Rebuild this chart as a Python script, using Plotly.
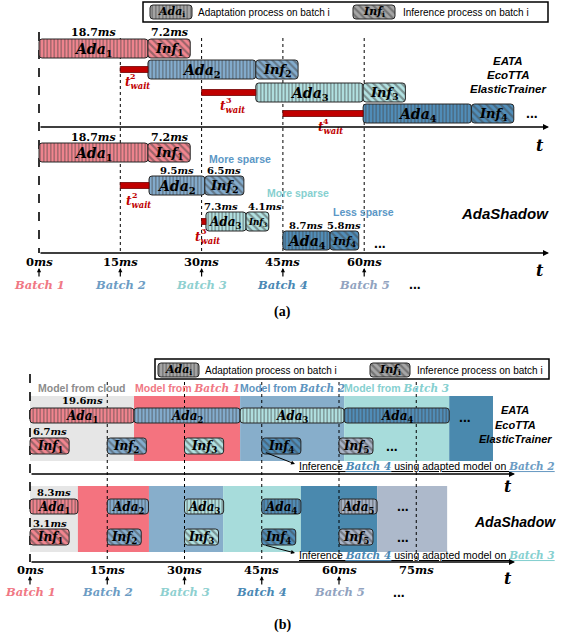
import plotly.graph_objects as go

# ======================= DATA =======================
batches = ["Batch 1", "Batch 2", "Batch 3", "Batch 4", "Batch 5"]
ticks_a = [0, 15, 30, 45, 60]
ticks_b = [0, 15, 30, 45, 60, 75]

# (a) EATA / EcoTTA / ElasticTrainer  (ms, extents as drawn)
a_eata_ada_start = [0.0, 20.1, 40.0, 59.8]
a_eata_ada_len = [20.1, 19.9, 19.8, 20.0]
a_eata_inf_len = [7.8, 7.8, 7.8, 7.8]
a_eata_arrive = [0, 15, 30, 45]
a_eata_ada_ms = ["18.7", "", "", ""]
a_eata_inf_ms = ["7.2", "", "", ""]

# (a) AdaShadow
a_shadow_ada_start = [0.0, 20.3, 30.8, 45.0]
a_shadow_ada_len = [20.1, 10.3, 7.4, 8.7]
a_shadow_inf_len = [7.8, 7.2, 4.2, 5.3]
a_shadow_arrive = [0, 15, 30, 45]
a_shadow_ada_ms = ["18.7", "9.5", "7.3", "8.7"]
a_shadow_inf_ms = ["7.2", "6.5", "4.1", "5.8"]
a_shadow_note = ["", "More sparse", "More sparse", "Less sparse"]

# (b) EATA / EcoTTA / ElasticTrainer
b_eata_model_edges = [0.0, 20.2, 40.8, 61.0, 81.4, 89.9]
b_eata_model_names = ["cloud", "Batch 1", "Batch 2", "Batch 3"]
b_eata_ada_start = [0.0, 20.2, 40.8, 61.0]
b_eata_ada_len = [20.2, 20.6, 20.2, 20.4]
b_eata_inf_start = [0, 15, 30, 45, 60]
b_eata_inf_len = [7.6, 7.6, 7.6, 7.6, 6.6]
b_eata_ada_ms = "19.6"
b_eata_inf_ms = "6.7"

# (b) AdaShadow
b_shadow_model_edges = [0.0, 9.3, 23.1, 37.5, 52.6, 67.4, 81.0]
b_shadow_ada_start = [0, 15, 30, 45, 60]
b_shadow_ada_len = [9.3, 8.0, 7.6, 7.6, 7.4]
b_shadow_inf_start = [0, 15, 30, 45, 60]
b_shadow_inf_len = [7.6, 6.6, 6.6, 6.6, 6.6]
b_shadow_ada_ms = "8.3"
b_shadow_inf_ms = "3.1"

# ======================= STYLE / LAYOUT =======================
W, H = 564, 641
PXA0, KA = 39.0, 5.42     # panel (a): px = PXA0 + KA*ms
PXB0, KB = 30.0, 5.15     # panel (b)
SERIF = "DejaVu Serif"
SANS = "Liberation Sans"
RED = "#C00000"
CLOUD = "#E6E6E6"
region_colors = ["#F4737F", "#87AECB", "#A7DCDB", "#4A89AE", "#ADB9CB"]
bar_colors = ["#F2858F", "#84ADCF", "#B2E2E2", "#508EBA", "#A9B4C7"]
text_colors = ["#F07884", "#6C9CC4", "#8ED0D0", "#4A88B4", "#91A3BF"]
NOTE_BLUE = "#5B97C6"
NOTE_TEAL = "#86D0D0"


def ms_a(px):
    return (px - PXA0) / KA


def ms_b(px):
    return (px - PXB0) / KB


traces = []
shapes = []
anns = []


def bars(starts, lens, ys, h, colors, xref, shape, rad=3, lw=1.0, lc="#262626", psize=3.5, sol=0.42):
    marker = dict(color=colors, line=dict(color=lc, width=lw), cornerradius=rad)
    if shape:
        marker["pattern"] = dict(shape=shape, fillmode="overlay", fgcolor="white",
                                 size=psize, solidity=sol)
    traces.append(go.Bar(orientation="h", base=list(starts), x=list(lens), y=list(ys),
                         width=[h] * len(ys), xaxis=xref, yaxis="y", marker=marker,
                         hoverinfo="skip", showlegend=False))


def txt(x, y, s, size=11, color="black", family=SERIF, xref="paper",
        xanchor="center", yanchor="middle", xshift=0):
    if xref == "paper":
        x = x / W
    anns.append(dict(x=x, y=y, xref=xref, yref="y", text=s, showarrow=False,
                     font=dict(size=size, color=color, family=family),
                     xanchor=xanchor, yanchor=yanchor, xshift=xshift))


def arrow(x0, y0, x1, y1, xref, width=1.5, head=2, size=1.0):
    anns.append(dict(x=x1, y=y1, ax=x0, ay=y0, xref=xref, yref="y", axref=xref, ayref="y",
                     text="", showarrow=True, arrowhead=head, arrowwidth=width,
                     arrowsize=size, arrowcolor="black", standoff=0, startstandoff=0))


def vline(x, y0, y1, xref, dash="dot", width=1.0):
    shapes.append(dict(type="line", xref=xref, yref="y", x0=x, x1=x, y0=y0, y1=y1,
                       line=dict(color="black", width=width, dash=dash), layer="below"))


def ada(i):
    return "<b><i>Ada</i><sub>%s</sub></b>" % i


def inf(i):
    return "<b><i>Inf</i><sub>%s</sub></b>" % i


def msl(v):
    return "<b>%s<i>ms</i></b>" % v


def twait(xc, yc, n, xref):
    txt(xc, yc, "<b><i>t<sub>wait</sub></i></b>", size=12, color=RED, xref=xref)
    txt(xc, yc - 7, "<b>%d</b>" % n, size=8, color=RED, xref=xref, xshift=-4)


# ---------------- panel (a) ----------------
shapes.append(dict(type="rect", xref="paper", yref="y", x0=143 / W, x1=548 / W, y0=2, y1=22,
                   line=dict(color="black", width=1.5), fillcolor="white", layer="below"))
bars([ms_a(150)], [ms_a(192) - ms_a(150)], [12], 14, ["#A6A6A6"], "x", "|")
bars([ms_a(353)], [ms_a(395) - ms_a(353)], [12], 14, ["#A6A6A6"], "x", "\\", psize=5)
txt(171, 12, ada("i"), size=11)
txt(374, 12, inf("i"), size=11)
txt(196, 12, "Adaptation process on batch i", size=10, family=SANS, xanchor="left")
txt(401, 12, "Inference process on batch i", size=10, family=SANS, xanchor="left")

vline(0, 32, 253, "x", dash="dash", width=1.6)
for t in ticks_a[1:]:
    vline(t, 38, 253, "x")

# EATA row
eata_tops = [39, 60, 83, 104]
RH = 19
ys = [t + RH / 2 for t in eata_tops]
inf_start = [s + l for s, l in zip(a_eata_ada_start, a_eata_ada_len)]
bars(a_eata_ada_start, a_eata_ada_len, ys, RH, bar_colors[:4], "x", "|")
bars(inf_start, a_eata_inf_len, ys, RH, bar_colors[:4], "x", "\\", psize=5)
wait_s = a_eata_arrive[1:]
wait_l = [a_eata_ada_start[i] - a_eata_arrive[i] for i in range(1, 4)]
bars(wait_s, wait_l, ys[1:], 6, [RED] * 3, "x", None, rad=0, lw=0.8, lc="#700000")
for i in range(4):
    cx = a_eata_ada_start[i] + a_eata_ada_len[i] / 2
    txt(cx, ys[i] + 1, ada(i + 1), size=14, xref="x")
    cx2 = inf_start[i] + a_eata_inf_len[i] / 2
    txt(cx2, ys[i] + 1, inf(i + 1), size=13, xref="x")
    if a_eata_ada_ms[i]:
        txt(cx, eata_tops[i] - 7, msl(a_eata_ada_ms[i]), size=11, xref="x")
        txt(cx2, eata_tops[i] - 7, msl(a_eata_inf_ms[i]), size=11, xref="x")
twait_off = [(3, 13), (4, 14), (7, 14)]
for k in range(3):
    cx = wait_s[k] + wait_l[k] / 2
    twait(cx + twait_off[k][0] / KA, ys[k + 1] + twait_off[k][1], k + 2, "x")
txt(532, 113, "<b>...</b>", size=14, family=SANS)
for j, s in enumerate(["EATA", "EcoTTA", "ElasticTrainer"]):
    txt(508, 61 + j * 14, "<b><i>%s</i></b>" % s, size=11.5, family=SANS)
arrow(0, 127, ms_a(549), 127, "x", width=1.5, head=2, size=0.8)
txt(540, 145, "<b><i>t</i></b>", size=16)

# AdaShadow row
sh_tops = [143, 176, 212, 231]
ys = [t + RH / 2 for t in sh_tops]
inf_start = [s + l for s, l in zip(a_shadow_ada_start, a_shadow_ada_len)]
bars(a_shadow_ada_start, a_shadow_ada_len, ys, RH, bar_colors[:4], "x", "|")
bars(inf_start, a_shadow_inf_len, ys, RH, bar_colors[:4], "x", "\\", psize=5)
wait_s = a_shadow_arrive[1:3]
wait_l = [a_shadow_ada_start[i] - a_shadow_arrive[i] for i in range(1, 3)]
bars(wait_s, wait_l, ys[1:3], 6, [RED] * 2, "x", None, rad=0, lw=0.8, lc="#700000")
for i in range(4):
    wa = a_shadow_ada_len[i] * KA
    wi = a_shadow_inf_len[i] * KA
    cx = a_shadow_ada_start[i] + a_shadow_ada_len[i] / 2
    cx2 = inf_start[i] + a_shadow_inf_len[i] / 2
    txt(cx, ys[i] + 1, ada(i + 1), size=min(14, wa * 0.3), xref="x")
    txt(cx2, ys[i] + 1, inf(i + 1), size=min(13, wi * 0.38), xref="x")
    if wa < 45:
        txt(inf_start[i] - 1.2, sh_tops[i] - 6, msl(a_shadow_ada_ms[i]), size=10,
            xref="x", xanchor="right")
        txt(inf_start[i], sh_tops[i] - 6, msl(a_shadow_inf_ms[i]), size=10,
            xref="x", xanchor="left")
    else:
        txt(cx, sh_tops[i] - 6, msl(a_shadow_ada_ms[i]), size=11 if i == 0 else 10, xref="x")
        txt(cx2, sh_tops[i] - 6, msl(a_shadow_inf_ms[i]), size=11 if i == 0 else 10, xref="x")
note_pos = [None, (207, 159, NOTE_BLUE), (265, 193, NOTE_TEAL), (331, 212, NOTE_BLUE)]
for i in range(1, 4):
    px, py, c = note_pos[i]
    txt(px, py, "<b>%s</b>" % a_shadow_note[i], size=10.5, family=SANS, color=c, xanchor="left")
for k in range(2):
    cx = wait_s[k] + wait_l[k] / 2
    twait(cx + 4 / KA, ys[k + 1] + 16, k + 2, "x")
txt(380, 243, "<b>...</b>", size=14, family=SANS)
txt(505, 213, "<b><i>AdaShadow</i></b>", size=15, family=SANS)
arrow(0, 253, ms_a(549), 253, "x", width=1.5, head=2, size=0.8)
txt(540, 270, "<b><i>t</i></b>", size=16)

for i, t in enumerate(ticks_a):
    txt(t, 262, msl(t), size=11.5, xref="x")
    arrow(t, 278, t, 268, "x", width=1.2, head=2, size=0.7)
    txt(t, 285, "<b><i>%s</i></b>" % batches[i], size=11.5, color=text_colors[i], xref="x")
txt(415, 284, "<b>...</b>", size=14, family=SANS)
txt(282, 312, "<b>(a)</b>", size=14, family="Liberation Serif")

# ---------------- panel (b) ----------------
shapes.append(dict(type="rect", xref="paper", yref="y", x0=155 / W, x1=549 / W, y0=359, y1=379,
                   line=dict(color="black", width=1.5), fillcolor="white", layer="below"))
top_cols = [CLOUD] + region_colors[:4]
for k in range(len(b_eata_model_edges) - 1):
    shapes.append(dict(type="rect", xref="x2", yref="y", x0=b_eata_model_edges[k],
                       x1=b_eata_model_edges[k + 1], y0=396, y1=461, line=dict(width=0),
                       fillcolor=top_cols[k], layer="below"))
bot_cols = [CLOUD] + region_colors
for k in range(len(b_shadow_model_edges) - 1):
    shapes.append(dict(type="rect", xref="x2", yref="y", x0=b_shadow_model_edges[k],
                       x1=b_shadow_model_edges[k + 1], y0=486, y1=552, line=dict(width=0),
                       fillcolor=bot_cols[k], layer="below"))
vline(0, 374, 562, "x2", dash="dash", width=1.6)
for t in ticks_b[1:]:
    vline(t, 382, 562, "x2")

bars([ms_b(158)], [ms_b(199) - ms_b(158)], [370], 14, ["#A6A6A6"], "x2", "|")
bars([ms_b(370)], [ms_b(410) - ms_b(370)], [370], 14, ["#A6A6A6"], "x2", "\\", psize=5)
txt(178.5, 370, ada("i"), size=11)
txt(390, 370, inf("i"), size=11)
txt(203, 370, "Adaptation process on batch i", size=10, family=SANS, xanchor="left")
txt(415, 370, "Inference process on batch i", size=10, family=SANS, xanchor="left")

hdr_cols = ["#8C8C8C", text_colors[0], "#5E95C0", NOTE_TEAL]
for k, nm in enumerate(b_eata_model_names):
    cx = (b_eata_model_edges[k] + b_eata_model_edges[k + 1]) / 2
    if nm == "cloud":
        s = "<b>Model from cloud</b>"
    else:
        s = "<b>Model from </b><span style='font-family:%s'><b><i>%s</i></b></span>" % (SERIF, nm)
    txt(cx, 388, s, size=10.5, family=SANS, color=hdr_cols[k], xref="x2")

ys_ada, ys_inf = 415.5, 446
bars(b_eata_ada_start, b_eata_ada_len, [ys_ada] * 4, 15, bar_colors[:4], "x2", "|")
bars(b_eata_inf_start, b_eata_inf_len, [ys_inf] * 5, 16, bar_colors, "x2", "\\", psize=5)
for i in range(4):
    txt(b_eata_ada_start[i] + b_eata_ada_len[i] / 2, ys_ada + 1, ada(i + 1), size=12, xref="x2")
for i in range(5):
    txt(b_eata_inf_start[i] + b_eata_inf_len[i] / 2, ys_inf + 1, inf(i + 1), size=12, xref="x2")
txt(b_eata_ada_len[0] / 2, 400, msl(b_eata_ada_ms), size=10, xref="x2")
txt(b_eata_inf_len[0] / 2, 431, msl(b_eata_inf_ms), size=10, xref="x2")
txt(465, 417, "<b>...</b>", size=14, family=SANS)
txt(392, 446, "<b>...</b>", size=14, family=SANS)
for j, s in enumerate(["EATA", "EcoTTA", "ElasticTrainer"]):
    txt(515, 410 + j * 14.5, "<b><i>%s</i></b>" % s, size=11, family=SANS)
arrow(0, 474, ms_b(515), 474, "x2", width=1.5, head=2, size=0.8)
txt(508, 486, "<b><i>t</i></b>", size=16)
txt(297, 466, "<u>Inference </u><span style='font-family:%s;color:%s'><u><b><i>Batch 4</i></b></u></span>"
    "<u> using adapted model on </u><span style='font-family:%s;color:%s'><u><b><i>Batch 2</i></b></u></span>"
    % (SERIF, text_colors[3], SERIF, text_colors[1]), size=10.5, family=SANS, xanchor="left")
arrow(45.5, 452, ms_b(295), 464, "x2", width=1.0, head=2, size=0.8)

ys_ada, ys_inf = 506.5, 537
bars(b_shadow_ada_start, b_shadow_ada_len, [ys_ada] * 5, 15, bar_colors, "x2", "|")
bars(b_shadow_inf_start, b_shadow_inf_len, [ys_inf] * 5, 16, bar_colors, "x2", "\\", psize=5)
for i in range(5):
    txt(b_shadow_ada_start[i] + b_shadow_ada_len[i] / 2, ys_ada + 1, ada(i + 1), size=12, xref="x2")
    txt(b_shadow_inf_start[i] + b_shadow_inf_len[i] / 2, ys_inf + 1, inf(i + 1), size=12, xref="x2")
txt(b_shadow_ada_len[0] / 2, 492, msl(b_shadow_ada_ms), size=10, xref="x2")
txt(b_shadow_inf_len[0] / 2, 523, msl(b_shadow_inf_ms), size=10, xref="x2")
txt(403, 506, "<b>...</b>", size=14, family=SANS)
txt(403, 537, "<b>...</b>", size=14, family=SANS)
txt(515, 522, "<b><i>AdaShadow</i></b>", size=14, family=SANS)
txt(297, 555, "<u>Inference </u><span style='font-family:%s;color:%s'><u><b><i>Batch 4</i></b></u></span>"
    "<u> using adapted model on </u><span style='font-family:%s;color:%s'><u><b><i>Batch 3</i></b></u></span>"
    % (SERIF, text_colors[3], SERIF, NOTE_TEAL), size=10.5, family=SANS, xanchor="left")
arrow(45.5, 545, ms_b(295), 553, "x2", width=1.0, head=2, size=0.8)
arrow(0, 562, ms_b(515), 562, "x2", width=1.5, head=2, size=0.8)
txt(508, 578, "<b><i>t</i></b>", size=16)

for i, t in enumerate(ticks_b):
    txt(t, 570, msl(t), size=11.5, xref="x2")
    if i < len(batches):
        arrow(t, 586, t, 576, "x2", width=1.2, head=2, size=0.7)
        txt(t, 592, "<b><i>%s</i></b>" % batches[i], size=11.5, color=text_colors[i], xref="x2")
txt(399, 592, "<b>...</b>", size=14, family=SANS)
txt(282, 625, "<b>(b)</b>", size=14, family="Liberation Serif")

fig = go.Figure(traces)
fig.update_layout(
    width=W, height=H, autosize=False,
    margin=dict(l=0, r=0, t=0, b=0),
    paper_bgcolor="white", plot_bgcolor="white",
    barmode="overlay", showlegend=False,
    xaxis=dict(range=[ms_a(0), ms_a(W)], domain=[0, 1], visible=False, anchor="y", fixedrange=True),
    xaxis2=dict(range=[ms_b(0), ms_b(W)], domain=[0, 1], visible=False, anchor="y",
                overlaying="x", fixedrange=True),
    yaxis=dict(range=[H, 0], domain=[0, 1], visible=False, fixedrange=True),
    shapes=shapes, annotations=anns,
)
fig.write_html("out.html", config=dict(displayModeBar=False),
               post_script="document.body.style.margin='0';document.body.style.overflow='hidden';")
